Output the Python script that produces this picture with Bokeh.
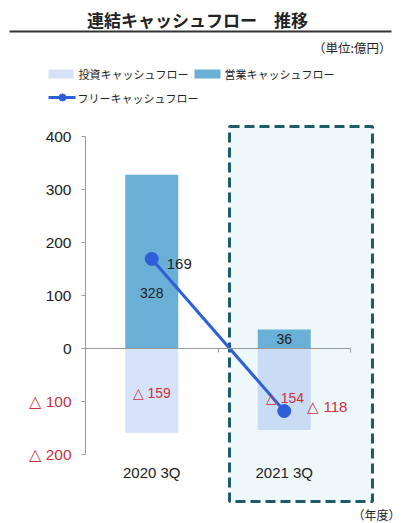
from bokeh.plotting import figure
from bokeh.models import Range1d, LinearAxis, FixedTicker, ColumnDataSource
from bokeh.core.properties import value
from bokeh.embed import file_html
from bokeh.resources import INLINE

# ---- data ----
categories = ["2020 3Q", "2021 3Q"]
operating_cf = [328, 36]
investing_cf = [-159, -154]
free_cf = [169, -118]
y_ticks_pos = [0, 100, 200, 300, 400]
y_ticks_neg = [-100, -200]
legend_labels = ["投資キャッシュフロー", "営業キャッシュフロー", "フリーキャッシュフロー"]

# ---- geometry helpers (pixel -> data) ----
W, H = 401, 523
X0_PX, XU = 85, 132.5
Y0_PX, YU = 348, 0.53


def dx(px):
    return (px - X0_PX) / XU


def dy(py):
    return (Y0_PX - py) / YU


def fmt(v):
    return str(v) if v >= 0 else "△ " + str(abs(v))


LATIN = "Liberation Sans"
CJK = "Noto Sans CJK JP"
RED = "#c8323c"
DARK = "#6aafd5"
LIGHT = ["#d6e2f8", "#cadcf4"]
BLUE = "#2f5fd8"

p = figure(width=W, height=H, x_range=Range1d(dx(0), dx(W)), y_range=Range1d(dy(H), dy(0)),
           output_backend="svg", toolbar_location=None, min_border=0,
           x_axis_type=None, y_axis_type=None)
p.outline_line_color = None
p.background_fill_color = "white"

xs = [i + 0.5 for i in range(len(categories))]

# highlight box around latest period
p.quad(left=dx(229), right=dx(372), top=dy(126), bottom=dy(501),
       fill_color="#eef8fa", line_color="#1e5c6c", line_width=3, line_dash="10 5")

# bars
p.vbar(x=xs, bottom=0, top=operating_cf, width=0.4, fill_color=DARK, line_color=None)
p.vbar(x=xs, top=0, bottom=investing_cf, width=0.4, fill_color=LIGHT, line_color=None)

# axes
ax_y = LinearAxis(fixed_location=0, ticker=FixedTicker(ticks=y_ticks_pos + y_ticks_neg),
                  bounds=(min(y_ticks_neg), max(y_ticks_pos)),
                  major_label_overrides={t: "" for t in y_ticks_neg})
ax_y.axis_line_color = "#9a9a9a"
ax_y.major_tick_line_color = "#9a9a9a"
ax_y.major_tick_in = 0
ax_y.major_tick_out = 4
ax_y.minor_tick_line_color = None
ax_y.major_label_standoff = 10
ax_y.major_label_text_font = LATIN
ax_y.major_label_text_font_size = "15.5px"
ax_y.major_label_text_color = "#222222"
p.add_layout(ax_y, "left")

ax_y2 = LinearAxis(fixed_location=0, ticker=FixedTicker(ticks=y_ticks_neg),
                   major_label_overrides={t: fmt(t) for t in y_ticks_neg})
ax_y2.axis_line_color = None
ax_y2.major_tick_line_color = None
ax_y2.major_tick_in = 0
ax_y2.major_tick_out = 4
ax_y2.minor_tick_line_color = None
ax_y2.major_label_standoff = 10
ax_y2.major_label_text_font = LATIN
ax_y2.major_label_text_font_size = "15.5px"
ax_y2.major_label_text_color = RED
p.add_layout(ax_y2, "left")

ax_zero = LinearAxis(fixed_location=0, ticker=FixedTicker(ticks=list(range(1, len(categories) + 1))),
                     bounds=(0, len(categories)))
ax_zero.axis_line_color = "#9a9a9a"
ax_zero.major_tick_line_color = "#9a9a9a"
ax_zero.major_tick_in = 0
ax_zero.major_tick_out = 4
ax_zero.minor_tick_line_color = None
ax_zero.major_label_text_alpha = 0
ax_zero.major_label_text_font_size = "1px"
p.add_layout(ax_zero, "below")

ax_cat = LinearAxis(fixed_location=min(y_ticks_neg), ticker=FixedTicker(ticks=xs),
                    major_label_overrides={x: c for x, c in zip(xs, categories)})
ax_cat.axis_line_color = None
ax_cat.major_tick_line_color = None
ax_cat.minor_tick_line_color = None
ax_cat.major_tick_in = 0
ax_cat.major_tick_out = 0
ax_cat.major_label_standoff = 9
ax_cat.major_label_text_font = LATIN
ax_cat.major_label_text_font_size = "15px"
ax_cat.major_label_text_color = "#222222"
p.add_layout(ax_cat, "below")

# free cash flow line
p.line(xs, free_cf, line_color=BLUE, line_width=3)
p.scatter(xs, free_cf, size=13, fill_color=BLUE, line_color=BLUE)

# data labels
op_src = ColumnDataSource(dict(x=xs, y=[dy(292), dy(338)], t=[fmt(v) for v in operating_cf]))
p.text("x", "y", text="t", source=op_src, text_align="center", text_baseline="middle",
       text_font=value(LATIN), text_font_size="14px", text_color="#222222")
inv_src = ColumnDataSource(dict(x=[xs[0], dx(284.5)], y=[dy(392), dy(397)], t=[fmt(v) for v in investing_cf]))
p.text("x", "y", text="t", source=inv_src, text_align="center", text_baseline="middle",
       text_font=value(LATIN), text_font_size="14px", text_color=RED)
fr_src = ColumnDataSource(dict(x=xs, y=free_cf, t=[fmt(v) for v in free_cf],
                               xo=[15, 23], yo=[5, -5], c=["#222222", RED]))
p.text("x", "y", text="t", source=fr_src, x_offset="xo", y_offset="yo", text_align="left",
       text_baseline="middle", text_font=value(LATIN), text_font_size="15px", text_color="c")

# title, unit, underline
p.text(x=[dx(197)], y=[dy(19)], text=["連結キャッシュフロー　推移"], text_align="center",
       text_baseline="middle", text_font=value(CJK), text_font_style="bold",
       text_font_size="17px", text_color="#222222")
p.segment(x0=[dx(9)], x1=[dx(391)], y0=[dy(31)], y1=[dy(31)], line_color="#333333", line_width=2)
p.text(x=[dx(391)], y=[dy(47)], text=["（単位:億円）"], text_align="right", text_baseline="middle",
       text_font=value(CJK), text_font_size="12.5px", text_color="#222222")

# legend (drawn manually)
p.quad(left=[dx(48), dx(194)], right=[dx(73), dx(220)], top=[dy(69), dy(69)], bottom=[dy(78), dy(78)],
       fill_color=[LIGHT[0], DARK], line_color=None)
p.segment(x0=[dx(48)], x1=[dx(75)], y0=[dy(97)], y1=[dy(97)], line_color=BLUE, line_width=3)
p.scatter(x=[dx(62)], y=[dy(97)], size=7, fill_color=BLUE, line_color=BLUE)
p.text(x=[dx(78), dx(224), dx(77)], y=[dy(73.5), dy(73.5), dy(97)], text=legend_labels,
       text_align="left", text_baseline="middle", text_font=value(CJK),
       text_font_size="11px", text_color="#222222")

# year note
p.text(x=[dx(400)], y=[dy(514)], text=["（年度）"], text_align="right", text_baseline="middle",
       text_font=value(CJK), text_font_size="12px", text_color="#222222")

open("out.html", "w").write(file_html(p, INLINE))
